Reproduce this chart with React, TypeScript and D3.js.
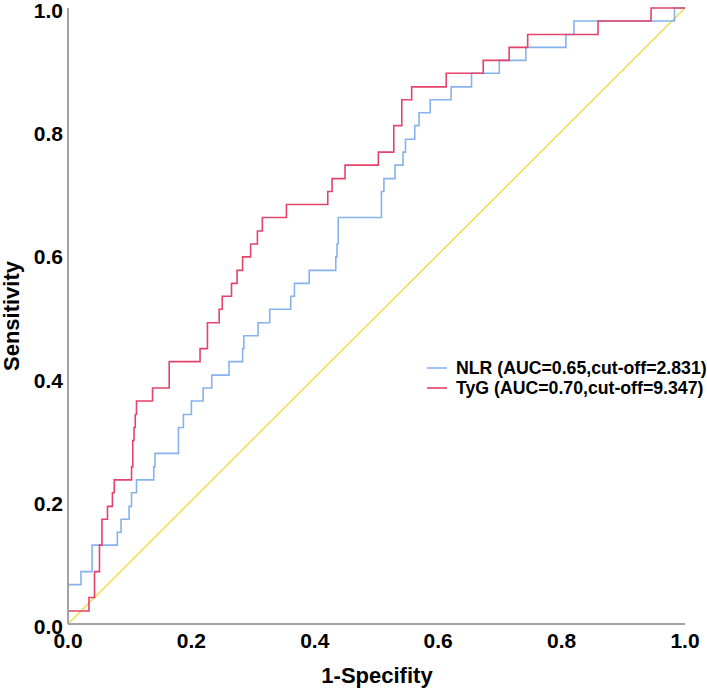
import React from "react";
import * as d3 from "d3";

// NLR ROC corner points (1-specificity, sensitivity)
const nlrFpr = [0, 0, 0.021, 0.021, 0.039, 0.039, 0.080, 0.080, 0.086, 0.086, 0.099, 0.099, 0.103, 0.103, 0.111, 0.111, 0.139, 0.139, 0.141, 0.141, 0.179, 0.179, 0.187, 0.187, 0.200, 0.200, 0.219, 0.219, 0.233, 0.233, 0.261, 0.261, 0.283, 0.283, 0.285, 0.285, 0.308, 0.308, 0.327, 0.327, 0.361, 0.361, 0.367, 0.367, 0.391, 0.391, 0.434, 0.434, 0.436, 0.436, 0.438, 0.438, 0.508, 0.508, 0.512, 0.512, 0.530, 0.530, 0.543, 0.543, 0.547, 0.547, 0.562, 0.562, 0.569, 0.569, 0.587, 0.587, 0.621, 0.621, 0.654, 0.654, 0.699, 0.699, 0.742, 0.742, 0.807, 0.807, 0.820, 0.820, 0.983, 0.983, 1];
const nlrTpr = [0, 0.064, 0.064, 0.085, 0.085, 0.128, 0.128, 0.149, 0.149, 0.170, 0.170, 0.191, 0.191, 0.213, 0.213, 0.234, 0.234, 0.255, 0.255, 0.277, 0.277, 0.319, 0.319, 0.340, 0.340, 0.362, 0.362, 0.383, 0.383, 0.404, 0.404, 0.426, 0.426, 0.447, 0.447, 0.468, 0.468, 0.489, 0.489, 0.511, 0.511, 0.532, 0.532, 0.553, 0.553, 0.574, 0.574, 0.596, 0.596, 0.617, 0.617, 0.660, 0.660, 0.702, 0.702, 0.723, 0.723, 0.745, 0.745, 0.766, 0.766, 0.787, 0.787, 0.809, 0.809, 0.830, 0.830, 0.851, 0.851, 0.872, 0.872, 0.894, 0.894, 0.915, 0.915, 0.936, 0.936, 0.957, 0.957, 0.979, 0.979, 1, 1];

// TyG ROC corner points
const tygFpr = [0, 0, 0.034, 0.034, 0.043, 0.043, 0.051, 0.051, 0.055, 0.055, 0.064, 0.064, 0.072, 0.072, 0.075, 0.075, 0.103, 0.103, 0.105, 0.105, 0.107, 0.107, 0.109, 0.109, 0.111, 0.111, 0.137, 0.137, 0.164, 0.164, 0.214, 0.214, 0.226, 0.226, 0.245, 0.245, 0.250, 0.250, 0.265, 0.265, 0.274, 0.274, 0.283, 0.283, 0.296, 0.296, 0.307, 0.307, 0.315, 0.315, 0.354, 0.354, 0.421, 0.421, 0.428, 0.428, 0.449, 0.449, 0.503, 0.503, 0.528, 0.528, 0.541, 0.541, 0.557, 0.557, 0.613, 0.613, 0.673, 0.673, 0.715, 0.715, 0.745, 0.745, 0.859, 0.859, 0.945, 0.945, 1];
const tygTpr = [0, 0.021, 0.021, 0.043, 0.043, 0.085, 0.085, 0.128, 0.128, 0.170, 0.170, 0.191, 0.191, 0.213, 0.213, 0.234, 0.234, 0.255, 0.255, 0.298, 0.298, 0.319, 0.319, 0.340, 0.340, 0.362, 0.362, 0.383, 0.383, 0.426, 0.426, 0.447, 0.447, 0.489, 0.489, 0.511, 0.511, 0.532, 0.532, 0.553, 0.553, 0.574, 0.574, 0.596, 0.596, 0.617, 0.617, 0.638, 0.638, 0.660, 0.660, 0.681, 0.681, 0.702, 0.702, 0.723, 0.723, 0.745, 0.745, 0.766, 0.766, 0.809, 0.809, 0.851, 0.851, 0.872, 0.872, 0.894, 0.894, 0.915, 0.915, 0.936, 0.936, 0.957, 0.957, 0.979, 0.979, 1, 1];

const refFpr = [0, 1];
const refTpr = [0, 1];

const tickValues = [0, 0.2, 0.4, 0.6, 0.8, 1.0];
const tickLabels = ["0.0", "0.2", "0.4", "0.6", "0.8", "1.0"];

const seriesNames = ["NLR (AUC=0.65,cut-off=2.831)", "TyG (AUC=0.70,cut-off=9.347)"];
const seriesColors = ["#86b3ee", "#e4436a"];
const refColor = "#efdc45";

const W = 707;
const H = 690;
const FONT = "'Liberation Sans', Arial, sans-serif";

export default function App() {
  const x = d3.scaleLinear().domain([0, 1]).range([68, 685]);
  const y = d3.scaleLinear().domain([0, 1]).range([624, 8]);
  const line = d3
    .line<[number, number]>()
    .x((d) => x(d[0]))
    .y((d) => y(d[1]));

  const zip = (a: number[], b: number[]) => a.map((v, i) => [v, b[i]] as [number, number]);
  const series = [zip(nlrFpr, nlrTpr), zip(tygFpr, tygTpr)];

  return (
    <svg
      width={W}
      height={H}
      style={{ position: "absolute", left: 0, top: 0, background: "#fff" }}
      fontFamily={FONT}
    >
      <rect width={W} height={H} fill="#fff" />
      {/* reference diagonal */}
      <path d={line(zip(refFpr, refTpr)) || ""} stroke={refColor} strokeWidth={1.4} fill="none" />
      {series.map((s, i) => (
        <path
          key={i}
          d={line(s) || ""}
          stroke={seriesColors[i]}
          strokeWidth={1.6}
          fill="none"
          strokeLinejoin="miter"
        />
      ))}
      {/* axes */}
      <line x1={x(0)} x2={x(0)} y1={y(1)} y2={y(0)} stroke="#a3a3a3" strokeWidth={2} />
      <line x1={x(0)} x2={x(1)} y1={y(0)} y2={y(0)} stroke="#a3a3a3" strokeWidth={2} />
      {tickValues.map((t, i) => (
        <text
          key={"y" + i}
          x={63}
          y={y(t) + 10}
          textAnchor="end"
          fontSize={21}
          fontWeight="bold"
          fill="#000"
        >
          {tickLabels[i]}
        </text>
      ))}
      {tickValues.map((t, i) => (
        <text
          key={"x" + i}
          x={x(t)}
          y={648}
          textAnchor="middle"
          fontSize={21}
          fontWeight="bold"
          fill="#000"
        >
          {tickLabels[i]}
        </text>
      ))}
      <text x={377} y={683} textAnchor="middle" fontSize={22} fontWeight="bold" fill="#000">
        1-Specifity
      </text>
      <text
        transform={`translate(18.5, ${(y(0) + y(1)) / 2}) rotate(-90)`}
        textAnchor="middle"
        fontSize={22}
        fontWeight="bold"
        fill="#000"
      >
        Sensitivity
      </text>
      {/* legend */}
      {seriesNames.map((n, i) => (
        <g key={"l" + i} transform={`translate(0, ${368 + i * 20})`}>
          <line x1={427} x2={447} y1={0} y2={0} stroke={seriesColors[i]} strokeWidth={1.6} />
          <text x={456} y={6} fontSize={17.7} fontWeight="bold" fill="#000">
            {n}
          </text>
        </g>
      ))}
    </svg>
  );
}
